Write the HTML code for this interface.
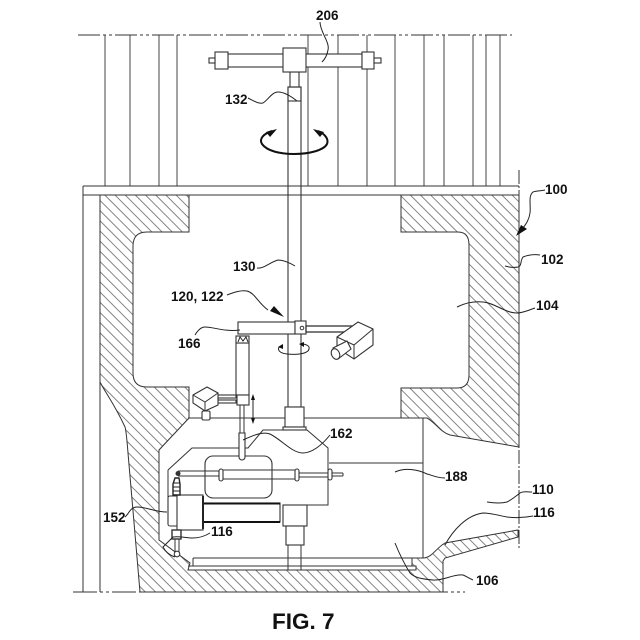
<!DOCTYPE html>
<html><head><meta charset="utf-8"><style>
html,body{margin:0;padding:0;background:#fff}
svg{display:block}
text{font-family:"Liberation Sans",sans-serif;font-weight:bold;font-size:13.5px;fill:#111}
.l{fill:none;stroke:#333;stroke-width:1}
.t{fill:none;stroke:#222;stroke-width:1}
.w{fill:#fff;stroke:#333;stroke-width:1.1}
</style></head><body>
<svg width="640" height="640" viewBox="0 0 640 640" xmlns="http://www.w3.org/2000/svg">
<defs>
<pattern id="h" width="7.2" height="7.2" patternUnits="userSpaceOnUse" patternTransform="rotate(-45)">
<line x1="1" y1="0" x2="1" y2="7.2" stroke="#777" stroke-width="0.9"/>
</pattern>
</defs>

<!-- background vertical lines -->
<path class="l" stroke-dasharray="22 3 3 3 3 3" d="M78 35H512"/>
<path class="l" style="stroke:#444" d="M105 35V186M130 35V186M159 35V186M177 35V186M308 35V186M338 35V186M367 35V186M395 35V186M424 35V186M444 35V186M473 35V186M486 35V186M500 35V186"/>

<!-- top plate -->
<path class="l" d="M83 186H519M83 195H519M83 186V592M100 195V592"/>
<path class="l" stroke-dasharray="14 2 2 2" d="M519 170V550"/>
<path class="l" stroke-dasharray="24 3 3 3 3 3" d="M73 592H465"/>

<!-- hatched body -->
<path fill="url(#h)" stroke="#333" stroke-width="1" d="M100 195H189V232H147Q133 232 133 246V373Q133 387 147 387H189V418L159 450V540L190 563L188 570H416V566H412V558H423C432 558 436 548 445 543L518 530V537L445 558L443 561V592H140L128 453C127 440 126 430 125 427C115 405 105 392 100 382Z"/>
<path fill="url(#h)" stroke="#333" stroke-width="1" d="M401 195H519V447L450 435C440 432 435 422 427 418H401V388H457Q469 388 469 375V245Q469 232 458 232H401Z"/>

<!-- housing lines -->
<path class="l" d="M188 418H427M423 418V558M329 463H423"/>
<path class="l" d="M168 470L192 448H248L263 430H307L328 448V505H307M168 470V500M193 558H412M193 558V566M188 566H412"/>
<rect x="205" y="456" width="67" height="42" rx="8" class="w" style="fill:none"/>

<!-- rod -->
<path class="l" d="M178 471H221M178 476H221M221 470H297M221 479H297M297 473H330M297 477H330M330 473H343M330 476H343M343 473V476"/>
<rect x="219" y="469" width="4" height="12" rx="2" class="w"/>
<rect x="295" y="469" width="4" height="12" rx="2" class="w"/>
<rect x="328" y="469" width="4" height="11" rx="2" class="w"/>
<circle cx="178" cy="473.500" r="2.500" fill="#333"/>

<!-- shaft -->
<rect x="288" y="87" width="13" height="320" class="w" style="fill:none"/>
<path d="M289 187H300V194H289ZM289 323H300V334H289Z" fill="#fff"/>
<rect x="285" y="407" width="19" height="20" class="w"/>
<rect x="283" y="427" width="23" height="3" class="w"/>
<rect x="283" y="505" width="24" height="21" class="w"/>
<rect x="286" y="526" width="18" height="19" class="w"/>
<path class="l" d="M288 545V570M301 545V570"/>

<!-- T head -->
<rect x="228" y="54" width="134" height="13" class="w"/>
<rect x="215" y="52" width="13" height="17" class="w"/>
<rect x="362" y="52" width="12" height="17" class="w"/>
<rect x="209" y="58" width="6" height="5" class="w"/>
<rect x="374" y="58" width="7" height="5" class="w"/>
<rect x="290" y="72" width="9" height="15" class="w"/>
<rect x="283" y="48" width="23" height="24" class="w"/>
<rect x="288" y="87" width="13" height="14" class="w" style="fill:none"/>

<!-- big rotation arrow -->
<path fill="none" stroke="#111" stroke-width="2" d="M272 131C263 134 259 139 262 144C267 151 280 154 294 154C310 154 324 150 327 144C329 139 325 134 318 131"/>
<path fill="#111" d="M277 129L266 132L270 137ZM313 129L324 132L320 137Z"/>

<!-- arm + cylinder -->
<rect x="238" y="322" width="57" height="12" class="w"/>
<rect x="295" y="321" width="11" height="13" class="w"/>
<circle cx="302" cy="328" r="1.800" fill="#fff" stroke="#333"/>
<rect x="306" y="326" width="51" height="6" class="w" style="stroke-width:1.300"/>
<rect x="236" y="343" width="13" height="52" class="w"/>
<rect x="236" y="336" width="13" height="7" class="w"/>
<path d="M238 342L240 337L243 341L246 337L248 342" class="t"/>
<rect x="237" y="395" width="12" height="10" class="w"/>
<path class="l" d="M240 405V433M244 405V433"/>
<path class="w" d="M239 433H245V457A3 3 0 0 1 239 457Z"/>

<!-- small rotation arrow -->
<path class="t" d="M283 345C276 347 277 353 287 354C296 355 308 354 309 349C310 346 306 344 302 344"/>
<path fill="#111" d="M283 344L278 347L283 349ZM299 344L304 342V347Z"/>

<!-- camera right -->
<path class="w" d="M337 337L358 322L373 329V345L354 359L337 348Z"/>
<path class="l" d="M337 337L354 345L373 329M354 345V359"/>
<path class="w" d="M333 348L347 341L351 349L338 359Z"/>
<ellipse cx="335.500" cy="354" rx="4" ry="5.500" transform="rotate(-25 335.500 354)" class="w"/>

<!-- camera left -->
<rect x="218" y="395" width="18" height="3" class="w"/>
<rect x="218" y="400" width="18" height="3" class="w"/>
<path class="w" d="M193 395L207 387L218 393V405L205 411L193 403Z"/>
<path class="l" d="M193 395L205 402L218 393M205 402V411"/>
<rect x="202" y="411" width="8" height="9" rx="1.500" class="w"/>

<!-- double arrow -->
<path class="t" d="M253 398V421"/>
<path fill="#111" d="M253 394L251 400H255ZM253 424L251 418H255Z"/>

<!-- lower assembly -->
<rect x="202" y="503" width="78" height="19" class="w"/>
<path stroke="#111" stroke-width="2" d="M202 503.500H280M202 522H280"/>
<rect x="168" y="496" width="10" height="30" rx="2" class="w"/>
<rect x="177" y="495" width="26" height="35" class="w"/>
<path stroke="#222" stroke-width="2" d="M203 496V529"/>
<path fill="#fff" stroke="#222" stroke-width="1.400" d="M173 495V484L175 478H179L180 484V495Z"/>
<path stroke="#222" d="M173 483H180M173 487H180M173 491H180"/>
<rect x="172" y="530" width="9" height="9" class="w" style="stroke-width:1.400"/>
<path class="l" d="M175 539V552M179 539V552"/>
<circle cx="177" cy="554" r="2.800" class="w"/>

<!-- leader lines -->
<g class="t">
<path d="M320 22C320 32 330 42 328 50C327 56 325 59 322 62"/>
<path d="M248 98C254 101 258 104 263 103C268 100 272 92 278 92C285 92 292 97 297 101"/>
<path d="M257 268C264 269 270 262 278 260C284 260 290 263 295 266"/>
<path d="M227 295C235 292 241 290 247 291C255 293 258 303 268 310"/>
<path d="M195 335C198 330 201 327 205 327C214 327 224 332 240 330"/>
<path d="M330 435C322 445 312 453 303 453C292 453 282 440 270 434C262 431 252 436 243 440"/>
<path d="M125 517C129 514 130 507 137 507C147 507 155 512 167 512"/>
<path d="M210 533C205 536 200 538 193 538C186 538 180 536 173 537C169 541 166 544 163 547C165 551 169 555 175 557"/>
<path d="M445 478C436 478 432 475 427 474C419 470 406 467 395 472"/>
<path d="M532 492C527 492 523 491 520 493C515 497 511 500 507 502C500 504 493 503 487 502"/>
<path d="M533 516C523 518 515 518 507 517C497 515 490 513 483 513C467 515 453 530 445 545"/>
<path d="M473 580C468 578 466 576 463 575C453 574 443 581 433 580C422 579 415 578 410 573C405 565 399 553 395 543"/>
<path d="M545 190C540 191 536 191 533 192C528 196 531 205 530 213C529 220 526 224 523 228"/>
<path d="M540 255C533 254 528 255 523 257C520 261 522 266 518 267C513 268 509 267 505 266"/>
<path d="M535 308C529 310 523 313 517 313C505 313 495 303 483 302C473 301 465 303 457 307"/>
</g>
<path fill="#111" d="M284 317L270 311L274 306Z"/>
<path fill="#111" d="M516 236L521 225L527 229Z"/>

<!-- labels -->
<text x="316" y="20">206</text>
<text x="225" y="104">132</text>
<text x="233" y="271">130</text>
<text x="171" y="301">120, 122</text>
<text x="178" y="348">166</text>
<text x="330" y="438">162</text>
<text x="445" y="481">188</text>
<text x="532" y="494">110</text>
<text x="533" y="517">116</text>
<text x="103" y="522">152</text>
<text x="211" y="536">116</text>
<text x="476" y="585">106</text>
<text x="545" y="194">100</text>
<text x="541" y="264">102</text>
<text x="536" y="310">104</text>
<text x="272" y="629" style="font-size:22.5px">FIG. 7</text>
</svg>
</body></html>
